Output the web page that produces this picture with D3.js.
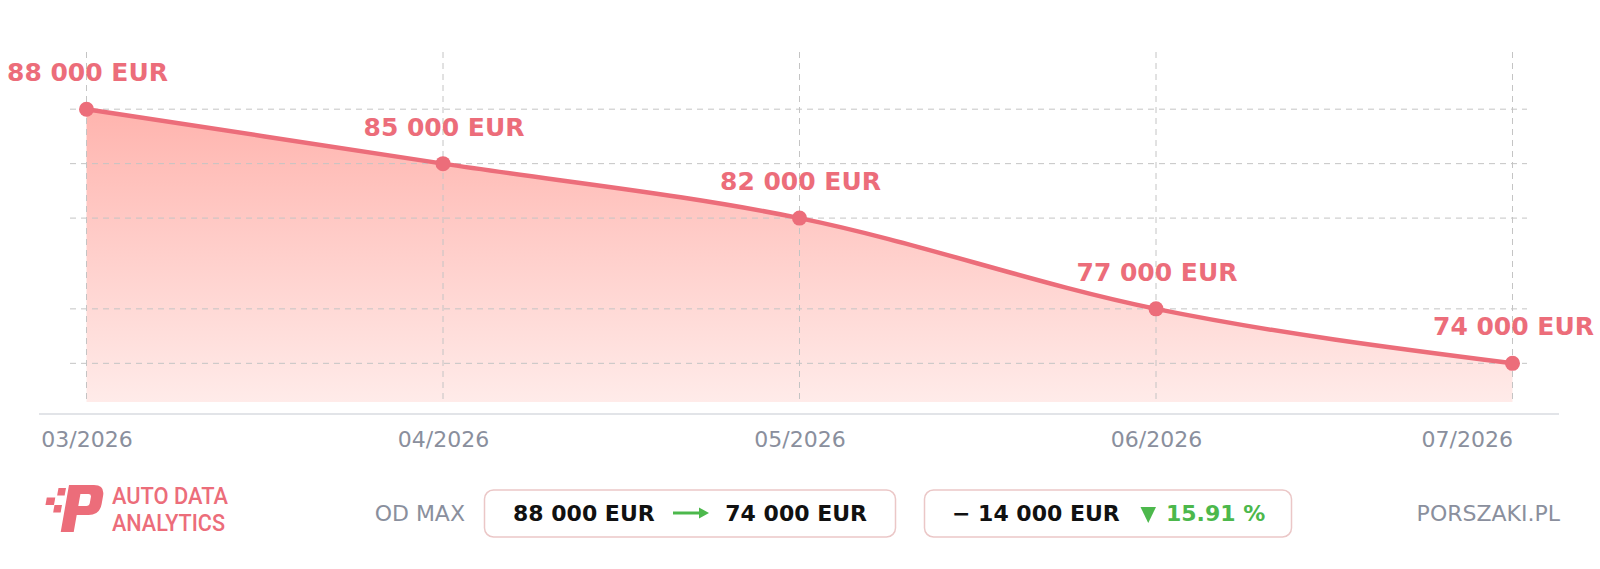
<!DOCTYPE html>
<html>
<head>
<meta charset="utf-8">
<script src="https://cdn.jsdelivr.net/npm/d3@7"></script>
<style>
  html, body { margin: 0; padding: 0; background: #ffffff; }
  svg { display: block; }
</style>
</head>
<body>
<svg id="chart" width="1600" height="569"></svg>
<script>
// ---- data ----
const categories = ["03/2026", "04/2026", "05/2026", "06/2026", "07/2026"];
const prices = [88000, 85000, 82000, 77000, 74000];
const valueLabels = ["88 000 EUR", "85 000 EUR", "82 000 EUR", "77 000 EUR", "74 000 EUR"];
const summaryFrom = "88 000 EUR";
const summaryTo = "74 000 EUR";
const summaryDiff = "− 14 000 EUR";
const summaryPct = "15.91 %";
const summaryLabel = "OD MAX";
const brandLines = ["AUTO DATA", "ANALYTICS"];
const siteName = "PORSZAKI.PL";

const data = categories.map((c, i) => ({ cat: c, v: prices[i], label: valueLabels[i] }));

const svg = d3.select("#chart");
const RED = "#ec6d7a";
const GRAY = "#8a8f9d";
const GREEN = "#4cb84c";
const FONT = "'DejaVu Sans', sans-serif";

const x = d3.scalePoint().domain(categories).range([86.5, 1512.5]);
const y = d3.scaleLinear().domain([71870, 91150]).range([402, 52]);

// gradient
const defs = svg.append("defs");
const grad = defs.append("linearGradient").attr("id", "areaGrad")
  .attr("gradientUnits", "userSpaceOnUse")
  .attr("x1", 0).attr("x2", 0).attr("y1", y(d3.max(prices))).attr("y2", y.range()[0]);
grad.append("stop").attr("offset", "0%").attr("stop-color", "#ffb4ae");
grad.append("stop").attr("offset", "100%").attr("stop-color", "#ffebe9");

// area
const area = d3.area().x(d => x(d.cat)).y0(y.range()[0]).y1(d => y(d.v)).curve(d3.curveMonotoneX);
svg.append("path").datum(data).attr("d", area).attr("fill", "url(#areaGrad)");

// grid lines
const grid = svg.append("g");
grid.selectAll("line.h").data(prices).join("line")
  .attr("x1", 70).attr("x2", 1527)
  .attr("y1", d => y(d)).attr("y2", d => y(d))
  .attr("stroke", "#c4c4c4").attr("stroke-width", 1).attr("stroke-dasharray", "6,5");
grid.selectAll("line.v").data(categories).join("line")
  .attr("x1", d => x(d)).attr("x2", d => x(d))
  .attr("y1", y.range()[1]).attr("y2", y.range()[0])
  .attr("stroke", "#c4c4c4").attr("stroke-width", 1).attr("stroke-dasharray", "6,5");

// x axis
const xAxis = svg.append("g").attr("transform", "translate(0,414)")
  .call(d3.axisBottom(x).tickSize(0).tickPadding(0));
xAxis.select(".domain").remove();
svg.append("line").attr("x1", 39).attr("x2", 1559).attr("y1", 414).attr("y2", 414)
  .attr("stroke", "#d8dbe0").attr("stroke-width", 1.5);
xAxis.selectAll(".tick text")
  .attr("y", 33).attr("dy", 0)
  .attr("font-family", FONT).attr("font-size", 22).attr("fill", GRAY)
  .attr("text-anchor", (d, i) => i === categories.length - 1 ? "end" : "middle");

// line
const line = d3.line().x(d => x(d.cat)).y(d => y(d.v)).curve(d3.curveMonotoneX);
svg.append("path").datum(data).attr("d", line)
  .attr("fill", "none").attr("stroke", RED).attr("stroke-width", 4.5).attr("stroke-linejoin", "round");

// points
svg.selectAll("circle.pt").data(data).join("circle")
  .attr("cx", d => x(d.cat)).attr("cy", d => y(d.v)).attr("r", 7.5).attr("fill", RED);

// value labels
svg.selectAll("text.val").data(data).join("text")
  .attr("x", d => x(d.cat) + 1).attr("y", d => y(d.v) - 28)
  .attr("text-anchor", "middle")
  .attr("font-family", FONT).attr("font-weight", "bold").attr("font-size", 25)
  .attr("fill", RED).text(d => d.label);

// ---- footer ----
// logo
const logo = svg.append("g").attr("transform", "translate(69,485) skewX(-10)");
logo.append("path").attr("fill-rule", "evenodd").attr("fill", RED)
  .attr("d", "M0,0 H25 Q36,0 36,11 V19 Q36,30 25,30 H13 V47 H0 Z M13,9 H21 Q24,9 24,12 V18 Q24,21 21,21 H13 Z");
logo.append("rect").attr("x", -10).attr("y", 3).attr("width", 7.5).attr("height", 7.5).attr("fill", RED);
logo.append("rect").attr("x", -20).attr("y", 12.5).attr("width", 8.5).attr("height", 7.5).attr("fill", RED);
logo.append("rect").attr("x", -11).attr("y", 20).attr("width", 7.5).attr("height", 7.5).attr("fill", RED);

svg.selectAll("text.brand").data(brandLines).join("text")
  .attr("x", 112).attr("y", (d, i) => 504 + i * 27)
  .attr("font-family", "Roboto, sans-serif").attr("font-weight", 500).attr("font-size", 24)
  .attr("textLength", (d, i) => i === 0 ? 116 : 113).attr("lengthAdjust", "spacingAndGlyphs")
  .attr("fill", RED).text(d => d);

svg.append("text").attr("x", 465).attr("y", 521).attr("text-anchor", "end")
  .attr("font-family", FONT).attr("font-size", 22).attr("fill", GRAY).text(summaryLabel);

// box 1
svg.append("rect").attr("x", 484.5).attr("y", 490).attr("width", 411).attr("height", 47).attr("rx", 9)
  .attr("fill", "#fff").attr("stroke", "#ebc7c7").attr("stroke-width", 1.5);
svg.append("text").attr("x", 513).attr("y", 521)
  .attr("font-family", FONT).attr("font-weight", "bold").attr("font-size", 22).attr("fill", "#111").text(summaryFrom);
svg.append("text").attr("x", 867).attr("y", 521).attr("text-anchor", "end")
  .attr("font-family", FONT).attr("font-weight", "bold").attr("font-size", 22).attr("fill", "#111").text(summaryTo);
svg.append("line").attr("x1", 673).attr("x2", 702).attr("y1", 513).attr("y2", 513)
  .attr("stroke", GREEN).attr("stroke-width", 3);
svg.append("path").attr("d", "M699,507.5 L709,513 L699,518.5 Z").attr("fill", GREEN);

// box 2
svg.append("rect").attr("x", 924.5).attr("y", 490).attr("width", 367).attr("height", 47).attr("rx", 9)
  .attr("fill", "#fff").attr("stroke", "#ebc7c7").attr("stroke-width", 1.5);
svg.append("text").attr("x", 952).attr("y", 521)
  .attr("font-family", FONT).attr("font-weight", "bold").attr("font-size", 22).attr("fill", "#111").text(summaryDiff);
svg.append("path").attr("d", "M1140.5,507 L1156,507 L1148.25,523 Z").attr("fill", GREEN);
svg.append("text").attr("x", 1166).attr("y", 521)
  .attr("font-family", FONT).attr("font-weight", "bold").attr("font-size", 22).attr("fill", GREEN).text(summaryPct);

svg.append("text").attr("x", 1560).attr("y", 521).attr("text-anchor", "end")
  .attr("font-family", FONT).attr("font-size", 22).attr("fill", GRAY).text(siteName);
</script>
</body>
</html>
